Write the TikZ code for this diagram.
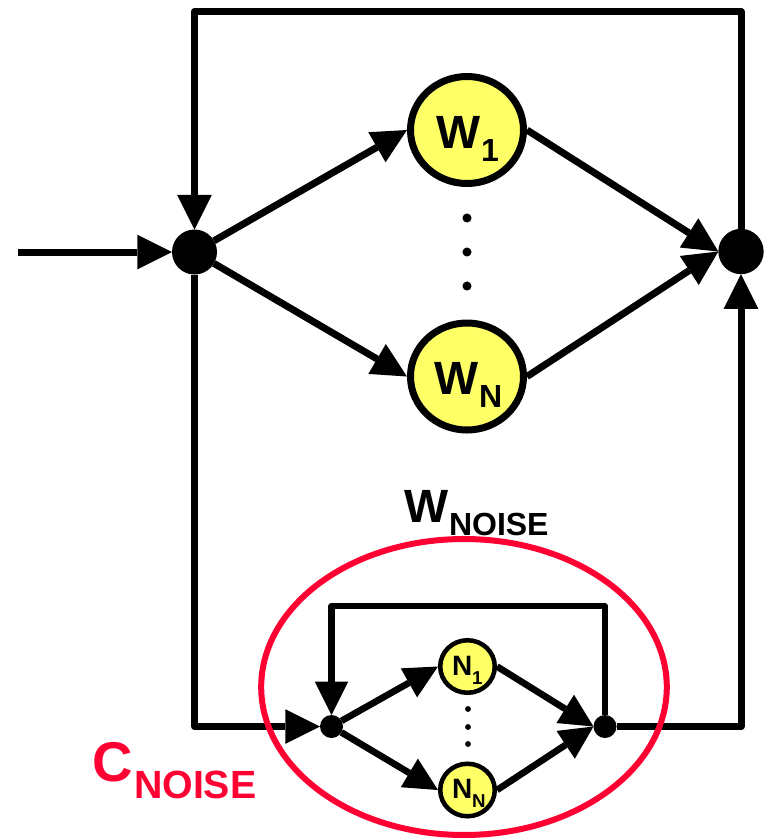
\documentclass[tikz,border=0pt]{standalone}
\usepackage{fontspec}
\setmainfont{Liberation Sans}
\usetikzlibrary{arrows.meta,shapes.geometric}
\definecolor{nodeyellow}{RGB}{255,255,102}
\definecolor{noisered}{RGB}{255,0,51}
\begin{document}
\begin{tikzpicture}[x=0.75pt,y=-0.75pt,
  mainline/.style={line width=5.25pt, line join=round},
  innerline/.style={line width=4.6pt, line join=round},
  bigarrow/.style={-{Triangle[length=26pt,width=26pt,line width=0pt]}},
  smallarrow/.style={-{Triangle[length=25pt,width=25pt,line width=0pt]}},
  junction/.style={circle, fill=black, inner sep=0pt, outer sep=0pt, minimum size=#1},
  wnode/.style={ellipse, draw=black, line width=5.25pt, fill=nodeyellow, inner sep=0pt, minimum width=84.75pt, minimum height=80.25pt},
  nnode/.style={ellipse, draw=black, line width=3.4pt, fill=nodeyellow, inner sep=0pt, minimum width=40.9pt, minimum height=39.4pt},
  lbl/.style={anchor=base west, inner sep=0pt, outer sep=0pt, font=\bfseries\fontsize{#1}{#1}\selectfont},
]
\useasboundingbox (0,0) rectangle (767,840);

% junctions
\node[junction=33.75pt] (L) at (194.5,252) {};
\node[junction=34pt] (R) at (741,251.5) {};
\node[junction=17.25pt] (l) at (331.5,726.5) {};
\node[junction=17.25pt] (r) at (605,726.5) {};

% weight nodes
\node[wnode] (w1) at (467,130) {};
\node[wnode] (wN) at (467,376.5) {};
\node[nnode] (n1) at (467.5,666.5) {};
\node[nnode] (nN) at (467.5,790) {};

% corner coordinates
\coordinate (in) at (18,252);
\coordinate (tl) at (194.5,11.5);
\coordinate (tr) at (741,11.5);
\coordinate (bl) at (194.5,726.5);
\coordinate (br) at (741,726.5);
\coordinate (itl) at (331.5,606);
\coordinate (itr) at (605,606);

% main connectors
\draw[mainline,bigarrow] (in) -- (L);
\draw[mainline,bigarrow] (R) -- (tr) -- (tl) -- (L);
\draw[mainline,bigarrow] (L) -- (w1.west);
\draw[mainline,bigarrow] (L) -- (wN.west);
\draw[mainline,bigarrow] (w1.east) -- (R.west);
\draw[mainline,bigarrow] (wN.east) -- (R.west);
\draw[mainline,bigarrow] (L) -- (bl) -- (l);
\draw[mainline,bigarrow] (r) -- (br) -- (R);

% noise connectors
\draw[innerline,smallarrow] (r) -- (itr) -- (itl) -- (l);
\draw[line width=5pt,smallarrow] (l) -- (n1.west);
\draw[line width=5pt,smallarrow] (l) -- (nN.west);
\draw[line width=5pt,smallarrow] (n1.east) -- (r.west);
\draw[line width=5pt,smallarrow] (nN.east) -- (r.west);

% vertical ellipsis dots
\foreach \yy in {218,252,286} \fill (467,\yy) circle[radius=3.4pt];
\foreach \yy in {709,727,744} \fill (468,\yy) circle[radius=2.2pt];

% red ellipse
\draw[noisered, line width=4.5pt] (464,687) ellipse[x radius=152.1pt, y radius=111pt];

% labels
\node[lbl=35pt] (w1a) at (436.5,148) {W};
\node[lbl=24pt] (w1b) at (481,161) {1};
\node[lbl=35pt] (wNa) at (434.5,394.5) {W};
\node[lbl=24pt] (wNb) at (479,407) {N};
\node[lbl=35pt] (wna) at (404.5,522) {W};
\node[lbl=24pt] (wnb) at (449,535) {NOISE};
\node[lbl=42pt, text=noisered] (ca) at (92,781) {C};
\node[lbl=29.5pt, text=noisered] (cb) at (134,798) {NOISE};
\node[lbl=21pt] (n1a) at (452,675.5) {N};
\node[lbl=14pt] (n1b) at (472,684) {1};
\node[lbl=21pt] (nNa) at (452,798.5) {N};
\node[lbl=14pt] (nNb) at (472,807) {N};
\end{tikzpicture}
\end{document}
